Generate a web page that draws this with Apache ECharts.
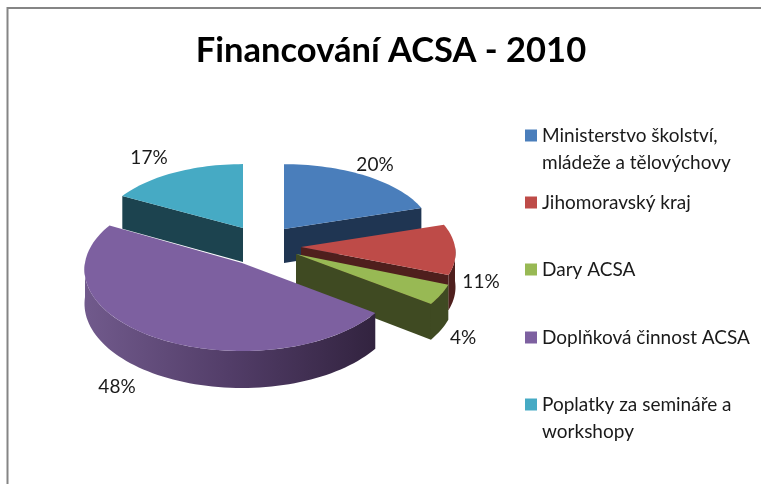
<!DOCTYPE html>
<html><head><meta charset="utf-8">
<style>html,body{margin:0;padding:0;background:#fff}#c{width:761px;height:484px;filter:blur(0.45px)}</style>
<script src="https://cdn.jsdelivr.net/npm/echarts@6/dist/echarts.min.js"></script>
</head><body><div id="c"></div>
<script>
const titleText = 'Financování ACSA - 2010';
const categories = ['Ministerstvo školství,\nmládeže a tělovýchovy','Jihomoravský kraj','Dary ACSA','Doplňková činnost ACSA','Poplatky za semináře a\nworkshopy'];
const shares = [20, 11, 4, 48, 17];
const topColors = ['#4a7ebb','#be4b48','#98b954','#7d60a0','#46aac4'];
const wallColors = ['#1f3552','#4f1f1d','#3f4a22','#4a3560','#1c434f'];

// Drawing layout of the exploded, tilted pie (not data)
const layout = [
  {ax:284, ay:229, R:148, ry:70, lx:375, ly:165},
  {ax:301, ay:247, R:154, ry:74, lx:481, ly:282},
  {ax:296, ay:254, R:159, ry:81, lx:463, ly:338},
  {ax:242, ay:263, R:157, ry:81, lx:117, ly:387},
  {ax:243, ay:228, R:143, ry:69, lx:149, ly:158}
];
const legendTops = [95, 189, 256, 324, 364];
const PERSP = 0.08, THICK = 34, RAD = Math.PI/180;
const total = shares.reduce((a,b)=>a+b,0);
const starts = shares.map((_,i)=>shares.slice(0,i).reduce((a,b)=>a+b,0)/total*360);

function pt(g, deg, r, depth){
  const u = Math.sin(deg*RAD)*r, v = -Math.cos(deg*RAD)*r, w = 1/(1-PERSP*v);
  return [g.ax + g.R*u*w, g.ay + g.ry*v*w + depth*THICK*w];
}
function arc(g, a, b, depth){
  const out = [], n = Math.max(2, Math.ceil(Math.abs(b-a)/2));
  for(let i=0;i<=n;i++) out.push(pt(g, a+(b-a)*i/n, 1, depth));
  return out;
}
function makeRender(i){
  return function(params, api){
    const g = layout[i], val = api.value(0), a = starts[i], b = a + val/total*360;
    const kids = [];
    const poly = (points, fill) => kids.push({type:'polygon', shape:{points}, style:{fill}});
    if(Math.sin(a*RAD) < 0) poly([pt(g,a,0,0),pt(g,a,1,0),pt(g,a,1,1),pt(g,a,0,1)], wallColors[i]);
    if(Math.sin(b*RAD) > 0) poly([pt(g,b,0,0),pt(g,b,1,0),pt(g,b,1,1),pt(g,b,0,1)], wallColors[i]);
    const ra = Math.max(a,90), rb = Math.min(b,270);
    if(rb > ra){
      const fill = i===3 ? new echarts.graphic.LinearGradient(1,0,0,0,[
        {offset:0,color:'#32233f'},{offset:.5,color:'#523d68'},{offset:1,color:'#715a8c'}]) : wallColors[i];
      poly(arc(g,ra,rb,0).concat(arc(g,rb,ra,1)), fill);
    }
    poly([pt(g,a,0,0)].concat(arc(g,a,b,0)), topColors[i]);
    kids.push({type:'text', style:{x:g.lx, y:g.ly, text:val+'%', fill:'#1a1a1a',
      font:'19px Lato', align:'center', verticalAlign:'middle'}});
    return {type:'group', children:kids};
  };
}
const chart = echarts.init(document.getElementById('c'), null, {renderer:'canvas'});
chart.setOption({
  animation:false,
  backgroundColor:'#fff',
  title:{text:titleText, left:386, top:28, textAlign:'center',
    textStyle:{fontFamily:'Lato', fontSize:34.5, fontWeight:'bold', color:'#000'}},
  legend: categories.map((name,i)=>({
    data:[name], orient:'vertical', left:525, top:legendTops[i], padding:0,
    icon:'rect', itemWidth:12, itemHeight:12, selectedMode:false,
    formatter: n => n.indexOf('\n')>=0 ? '\n'+n : n,
    textStyle:{fontFamily:'Lato', fontSize:19, lineHeight:27, color:'#1a1a1a'}
  })),
  graphic:[{type:'polyline', shape:{points:[[7.5,484],[7.5,8],[761,8]]},
    style:{stroke:'#858585', lineWidth:2, fill:null}}],
  series: categories.map((name,i)=>({
    type:'custom', name, coordinateSystem:'none', z:2+i, silent:true,
    itemStyle:{color:topColors[i]},
    data:[[shares[i]]], renderItem:makeRender(i)
  }))
});
</script></body></html>
